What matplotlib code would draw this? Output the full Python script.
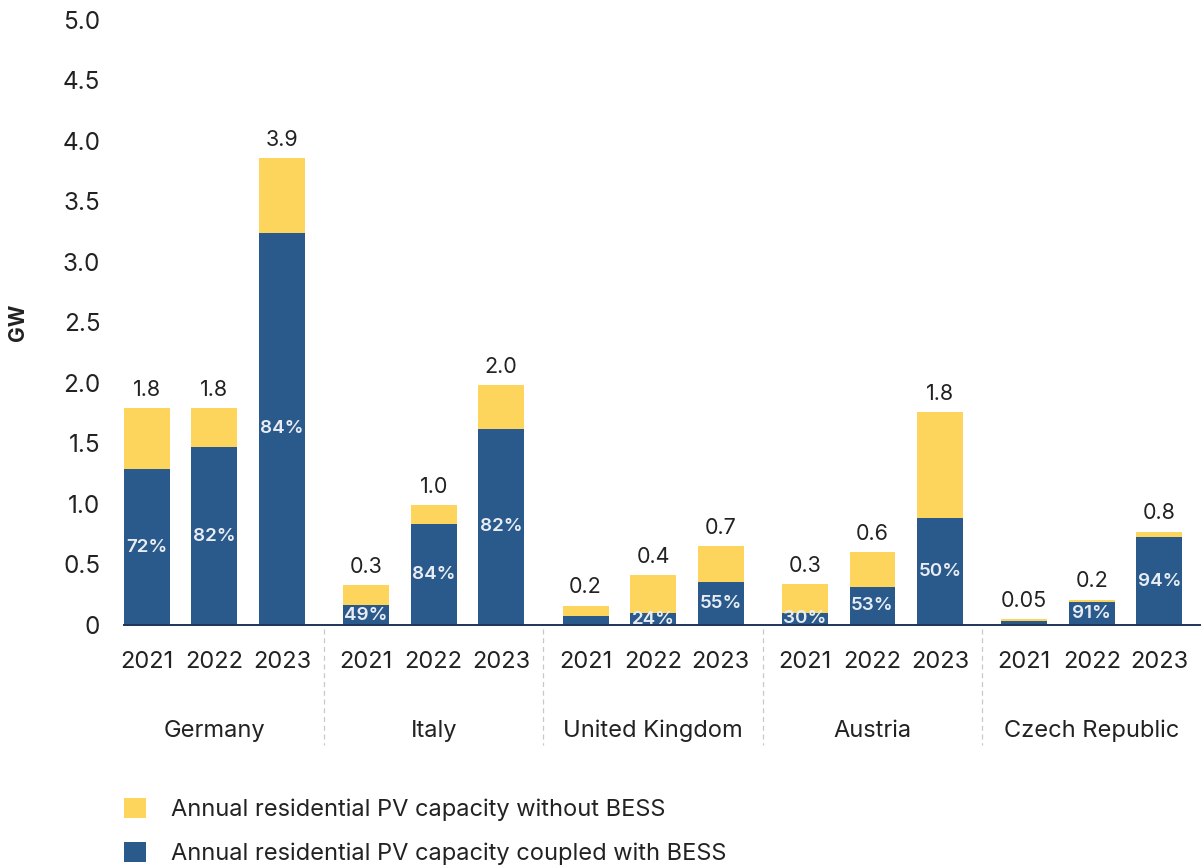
import matplotlib.pyplot as plt
import numpy as np
from matplotlib.patches import Patch

# Annual residential PV capacity by country and year (GW)
countries = ["Germany", "Italy", "United Kingdom", "Austria", "Czech Republic"]
years = ["2021", "2022", "2023"]
total_gw = [1.79, 1.79, 3.86,
            0.33, 0.99, 1.98,
            0.16, 0.41, 0.65,
            0.34, 0.60, 1.76,
            0.05, 0.21, 0.77]
# share of that capacity coupled with battery storage
bess_share = [0.72, 0.82, 0.84,
              0.49, 0.84, 0.82,
              0.47, 0.24, 0.55,
              0.30, 0.53, 0.50,
              0.60, 0.91, 0.94]
share_labels = ["72%", "82%", "84%",
                "49%", "84%", "82%",
                None, "24%", "55%",
                "30%", "53%", "50%",
                None, "91%", "94%"]

YELLOW = "#FDD55D"
BLUE = "#2A5A8C"
TXT = "#222222"

plt.rcParams['font.family'] = ['Inter', 'DejaVu Sans']

total = np.array(total_gw)
with_bess = total * np.array(bess_share)
without_bess = total - with_bess

group_step = 3.25
x = np.array([g * group_step + j for g in range(len(countries)) for j in range(len(years))])

fig = plt.figure(figsize=(12.01, 8.66), dpi=100)
ax = fig.add_axes([0.1032, 0.2783, 0.8958, 0.6987])

w = 0.68
ax.bar(x, with_bess, width=w, color=BLUE)
ax.bar(x, without_bess, width=w, bottom=with_bess, color=YELLOW)

for xi, t, b, lab in zip(x, total, with_bess, share_labels):
    txt = f"{t:.2f}" if t < 0.1 else f"{t:.1f}"
    ax.annotate(txt, (xi, t), xytext=(0, 6), textcoords="offset points",
                ha="center", va="bottom", fontsize=15.5, color=TXT)
    if lab:
        ax.text(xi, b / 2, lab, ha="center", va="center", fontsize=13.5,
                color="#E9EDF3", fontweight="semibold")

ax.set_xlim(-0.34, 15.6)
ax.set_ylim(0, 5)
ax.set_yticks(np.arange(0, 5.01, 0.5))
ax.set_yticklabels(["0"] + [f"{v:.1f}" for v in np.arange(0.5, 5.01, 0.5)])
ax.tick_params(axis="y", length=0, labelsize=17.5, colors=TXT, pad=17)
ax.set_xticks(x)
ax.set_xticklabels(years * len(countries))
ax.tick_params(axis="x", length=0, labelsize=17, colors=TXT, pad=19)
ax.set_ylabel("GW", fontsize=15, fontweight="bold", color=TXT)
ax.yaxis.set_label_coords(-0.089, 0.5)

for s in ["top", "right", "left"]:
    ax.spines[s].set_visible(False)
ax.spines["bottom"].set_color("#1F3557")
ax.spines["bottom"].set_linewidth(1.4)

# country names and dashed separators under the axis
for g, name in enumerate(countries):
    ax.text(g * group_step + 1, -0.875, name, ha="center", va="center",
            fontsize=17, color=TXT)
    if g < len(countries) - 1:
        sx = g * group_step + 2 + (group_step - 2) / 2
        ax.plot([sx, sx], [-0.03, -0.99], ls=(0, (4, 3)), lw=0.9,
                color="#C8C8C8", clip_on=False)

handles = [Patch(facecolor=YELLOW, edgecolor="none"),
           Patch(facecolor=BLUE, edgecolor="none")]
fig.legend(handles,
           ["Annual residential PV capacity without BESS",
            "Annual residential PV capacity coupled with BESS"],
           loc="upper left", bbox_to_anchor=(0.1032, 0.079),
           frameon=False, fontsize=17, handlelength=0.93, handleheight=0.93,
           handletextpad=1.05, labelspacing=0.9, labelcolor=TXT,
           borderpad=0, borderaxespad=0)

fig.savefig("out.png", dpi=100)
